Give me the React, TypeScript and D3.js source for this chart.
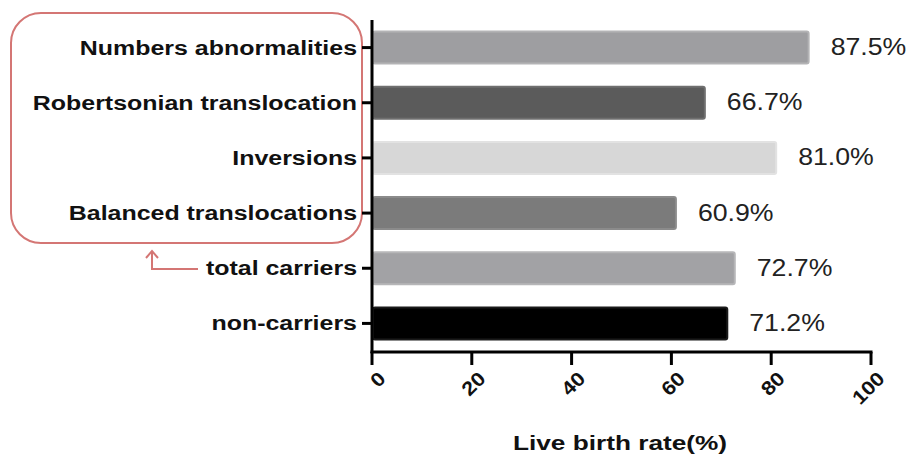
import React from "react";
import * as d3 from "d3";

const categories = [
  "Numbers abnormalities",
  "Robertsonian translocation",
  "Inversions",
  "Balanced translocations",
  "total carriers",
  "non-carriers",
];
const values = [87.5, 66.7, 81.0, 60.9, 72.7, 71.2];
const valueLabels = ["87.5%", "66.7%", "81.0%", "60.9%", "72.7%", "71.2%"];
const fills = ["#9e9ea1", "#5b5b5b", "#d7d7d7", "#7b7b7b", "#a2a2a5", "#000000"];
const strokes = ["#b3b3b5", "#6f6f6f", "#e2e2e2", "#8b8b8b", "#b6b6b8", "#1a1a1a"];
const xTicks = [0, 20, 40, 60, 80, 100];
const xTitle = "Live birth rate(%)";

const W = 914;
const H = 457;
const SX = 1.28; // horizontal stretch of the text in the reference

export default function App() {
  const x = d3.scaleLinear().domain([0, 100]).range([372, 871]);
  const y = d3
    .scaleBand<string>()
    .domain(categories)
    .range([20, 351])
    .paddingInner(0.42)
    .paddingOuter(0.21);
  const bw = y.bandwidth();
  const font = "Arial, 'Liberation Sans', Helvetica, sans-serif";

  return (
    <svg width={W} height={H} style={{ position: "absolute", left: 0, top: 0 }} fontFamily={font}>
      <rect x={0} y={0} width={W} height={H} fill="#fff" />
      {/* rounded annotation box */}
      <rect x={11} y={13} width={351} height={230} rx={30} ry={30} fill="none" stroke="#d47674" strokeWidth={2} />
      {/* arrow */}
      <polyline points="198,269 152,269 152,252" fill="none" stroke="#d47674" strokeWidth={2} />
      <polyline points="146,258 152,251 158,258" fill="none" stroke="#d47674" strokeWidth={2} />

      {/* bars */}
      {categories.map((c, i) => (
        <rect
          key={c}
          x={x(0) + 1}
          y={y(c)!}
          width={x(values[i]) - x(0) - 1}
          height={bw}
          rx={2}
          fill={fills[i]}
          stroke={strokes[i]}
          strokeWidth={2}
        />
      ))}

      {/* value labels */}
      {categories.map((c, i) => (
        <g key={c + "v"} transform={`translate(${x(values[i]) + 22},${y(c)! + bw / 2 + 7.5}) scale(1.16,1)`}>
          <text fontSize={23} fill="#222">
            {valueLabels[i]}
          </text>
        </g>
      ))}

      {/* y axis */}
      <line x1={372} x2={372} y1={20} y2={353} stroke="#000" strokeWidth={3} />
      {categories.map((c) => (
        <g key={c + "t"}>
          <line x1={362} x2={372} y1={y(c)! + bw / 2} y2={y(c)! + bw / 2} stroke="#000" strokeWidth={3} />
          <g transform={`translate(357,${y(c)! + bw / 2 + 7}) scale(${SX},1)`}>
            <text fontSize={19.5} fontWeight="bold" textAnchor="end" fill="#111">
              {c}
            </text>
          </g>
        </g>
      ))}

      {/* x axis */}
      <line x1={370.5} x2={872.5} y1={352} y2={352} stroke="#000" strokeWidth={3} />
      {xTicks.map((t) => (
        <g key={t}>
          <line x1={x(t)} x2={x(t)} y1={352} y2={365} stroke="#000" strokeWidth={3} />
          <g transform={`translate(${x(t) + 5},${370}) rotate(-45) scale(1.12,1)`}>
            <text fontSize={19.5} fontWeight="bold" textAnchor="end" dy="0.72em" fill="#111">
              {t}
            </text>
          </g>
        </g>
      ))}
      <g transform={`translate(620,450) scale(1.28,1)`}>
        <text fontSize={20.5} fontWeight="bold" textAnchor="middle" fill="#111">
          {xTitle}
        </text>
      </g>
    </svg>
  );
}
